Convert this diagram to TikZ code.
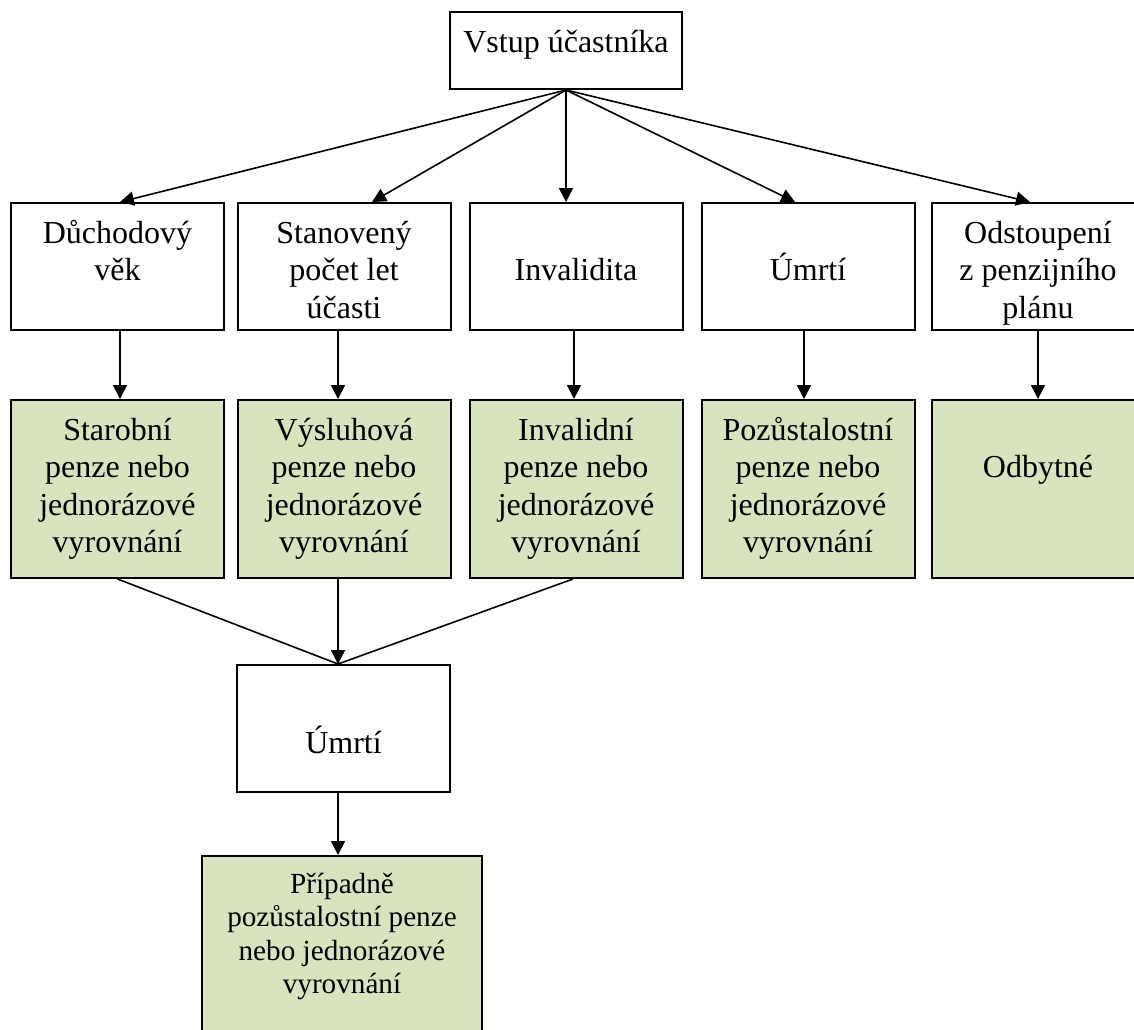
\documentclass[tikz,border=0pt]{standalone}
\usepackage{fontspec}
\setmainfont{Liberation Serif}
\usetikzlibrary{arrows.meta}
\definecolor{olivelight}{HTML}{D7E4BD}
\newcommand{\fl}{\rule{0pt}{15pt}}
\newcommand{\fsA}{\fontsize{16}{18.75}\selectfont}
\newcommand{\fsB}{\fontsize{14.6}{16.7}\selectfont}
\begin{document}
\begin{tikzpicture}[x=0.5pt,y=-0.5pt,
  box/.style={draw=black,line width=1pt,inner sep=0pt,minimum width=106.5pt,minimum height=63.5pt},
  gbox/.style={box,fill=olivelight,minimum height=89pt},
  txt/.style={anchor=north,align=center,inner sep=0pt,font=\fsA},
  arr/.style={-{Triangle[length=7pt,width=7pt]},line width=0.8pt},
  ln/.style={line width=0.8pt}]
\clip (0,0) rectangle (1134,1029);
\fill[white] (0,0) rectangle (1134,1029);

% boxes
\node[box,minimum width=116pt,minimum height=38.5pt] (top) at (566,50.5) {};
\node[box] (b1) at (117.5,266.5) {};
\node[box] (b2) at (344,266.5) {};
\node[box] (b3) at (576,266.5) {};
\node[box] (b4) at (808,266.5) {};
\node[box] (b5) at (1038,266.5) {};
\node[gbox] (g1) at (117.5,489) {};
\node[gbox] (g2) at (344,489) {};
\node[gbox] (g3) at (576,489) {};
\node[gbox] (g4) at (808,489) {};
\node[gbox] (g5) at (1038,489) {};
\node[box] (u) at (343.5,728.5) {};
\node[gbox,minimum width=140pt,minimum height=92pt] (p) at (342,948) {};

% texts
\node[txt] (t0) at (566,22) {\fl Vstup účastníka};
\node[txt] (t1) at (117.5,213) {\fl Důchodový\\věk};
\node[txt] (t2) at (344,213) {\fl Stanovený\\počet let\\účasti};
\node[txt] (t3) at (576,213) {\fl\\Invalidita};
\node[txt] (t4) at (808,213) {\fl\\Úmrtí};
\node[txt] (t5) at (1038,213) {\fl Odstoupení\\z penzijního\\plánu};
\node[txt] (s1) at (117.5,410) {\fl Starobní\\penze nebo\\jednorázové\\vyrovnání};
\node[txt] (s2) at (344,410) {\fl Výsluhová\\penze nebo\\jednorázové\\vyrovnání};
\node[txt] (s3) at (576,410) {\fl Invalidní\\penze nebo\\jednorázové\\vyrovnání};
\node[txt] (s4) at (808,410) {\fl Pozůstalostní\\penze nebo\\jednorázové\\vyrovnání};
\node[txt] (s5) at (1038,410) {\fl\\Odbytné};
\node[txt] (tu) at (343.5,686) {\fl\\Úmrtí};
\node[txt,font=\fsB] (tp) at (342,863) {\fl Případně\\pozůstalostní penze\\nebo jednorázové\\vyrovnání};

% fan arrows
\draw[arr] (top.south) -- ([xshift=1.25pt]b1.north);
\draw[arr] (top.south) -- ([xshift=14pt]b2.north);
\draw[arr] (top.south) -- ([xshift=-5pt]b3.north);
\draw[arr] (top.south) -- ([xshift=-6.5pt]b4.north);
\draw[arr] (top.south) -- ([xshift=-4pt]b5.north);

% row 1 -> row 2
\draw[arr] ([xshift=1.25pt]b1.south) -- ([xshift=1.25pt]g1.north);
\draw[arr] ([xshift=-3pt]b2.south) -- ([xshift=-3pt]g2.north);
\draw[arr] ([xshift=-1pt]b3.south) -- ([xshift=-1pt]g3.north);
\draw[arr] ([xshift=-2pt]b4.south) -- ([xshift=-2pt]g4.north);
\draw[arr] (b5.south) -- (g5.north);

% merge to Úmrtí
\draw[ln] (g1.south) -- ([xshift=-2.75pt]u.north);
\draw[ln] ([xshift=-1.5pt]g3.south) -- ([xshift=-2.75pt]u.north);
\draw[arr] ([xshift=-3pt]g2.south) -- ([xshift=-2.75pt]u.north);

% Úmrtí -> final
\draw[arr] ([xshift=-2.75pt]u.south) -- ([xshift=-2pt]p.north);
\end{tikzpicture}
\end{document}
